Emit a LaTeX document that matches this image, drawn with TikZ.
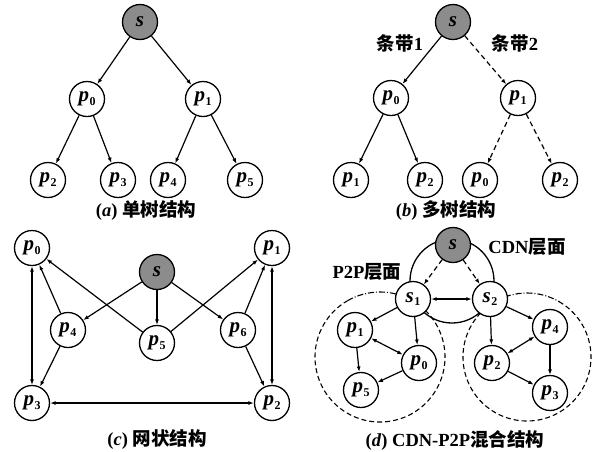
\documentclass[tikz,border=0pt]{standalone}
\usepackage{fontspec}
\setmainfont{Liberation Serif}
\newfontfamily\cjk{Noto Sans CJK SC}
\usetikzlibrary{arrows.meta}
\newcommand{\pn}[1]{\textit{p}\kern0.5pt\raisebox{-0.35ex}{\fontsize{12}{13}\selectfont #1}}
\newcommand{\sn}[1]{\textit{s}\kern0.5pt\raisebox{-0.35ex}{\fontsize{12}{13}\selectfont #1}}
\begin{document}
\begin{tikzpicture}[x=1pt,y=-1pt,
  nd/.style={circle,draw,line width=1.3pt,fill=white,minimum size=35pt,inner sep=0pt,font=\fontsize{21}{22}\selectfont\bfseries},
  src/.style={nd,fill=gray!90},
  ar/.style={line width=1.2pt,-{Latex[length=5.5pt,width=4pt]}},
  dar/.style={line width=1.2pt,<->,>={Latex[length=5.5pt,width=4pt]}},
  dsh/.style={ar,dash pattern=on 5pt off 3.5pt},
  captxt/.style={font=\fontsize{18.5}{20}\selectfont\bfseries},
  lab/.style={font=\fontsize{18.5}{20}\selectfont\bfseries}]
\useasboundingbox (0,0) rectangle (598,451);
% (a)
\node[src] (as) at (140,22) {\textit{s}};
\node[nd] (ap0) at (87,99) {\pn{0}};
\node[nd] (ap1) at (203,99) {\pn{1}};
\node[nd] (ap2) at (48,180) {\pn{2}};
\node[nd] (ap3) at (118,180) {\pn{3}};
\node[nd] (ap4) at (168,180) {\pn{4}};
\node[nd] (ap5) at (245,180) {\pn{5}};
\draw[ar] (as) -- (ap0);
\draw[ar] (as) -- (ap1);
\draw[ar] (ap0) -- (ap2);
\draw[ar] (ap0) -- (ap3);
\draw[ar] (ap1) -- (ap4);
\draw[ar] (ap1) -- (ap5);
\node[captxt] (acap) at (146,211) {(\textit{a}) {\cjk 单树结构}};
% (b)
\node[src] (bs) at (453,22) {\textit{s}};
\node[nd] (bp0) at (391,98) {\pn{0}};
\node[nd] (bp1) at (518,98) {\pn{1}};
\node[nd] (bq1) at (351,180) {\pn{1}};
\node[nd] (bq2) at (425,180) {\pn{2}};
\node[nd] (bq0) at (480,180) {\pn{0}};
\node[nd] (bq3) at (560,180) {\pn{2}};
\draw[ar] (bs) -- (bp0);
\draw[dsh] (bs) -- (bp1);
\draw[ar] (bp0) -- (bq1);
\draw[ar] (bp0) -- (bq2);
\draw[dsh] (bp1) -- (bq0);
\draw[dsh] (bp1) -- (bq3);
\node[lab] (bl1) at (400,43) {{\cjk 条带}1};
\node[lab] (bl2) at (515,43) {{\cjk 条带}2};
\node[captxt] (bcap) at (446,211) {(\textit{b}) {\cjk 多树结构}};
% (c)
\node[src] (cs) at (157,272) {\textit{s}};
\node[nd] (cp0) at (32,248) {\pn{0}};
\node[nd] (cp1) at (272,248) {\pn{1}};
\node[nd] (cp4) at (68,330) {\pn{4}};
\node[nd] (cp5) at (157,343) {\pn{5}};
\node[nd] (cp6) at (238,330) {\pn{6}};
\node[nd] (cp3) at (32,403) {\pn{3}};
\node[nd] (cp2) at (272,403) {\pn{2}};
\draw[dar] (cp0) -- (cp3);
\draw[dar] (cp1) -- (cp2);
\draw[dar] (cp3) -- (cp2);
\draw[ar] (cs) -- (cp4);
\draw[ar] (cs) -- (cp5);
\draw[ar] (cs) -- (cp6);
\draw[ar] (cp4) -- (cp0);
\draw[ar] (cp4) -- (cp3);
\draw[ar] (cp5) -- (cp0);
\draw[ar] (cp5) -- (cp1);
\draw[ar] (cp6) -- (cp1);
\draw[ar] (cp6) -- (cp2);
\node[captxt] (ccap) at (157,440) {(\textit{c}) {\cjk 网状结构}};
% (d)
\coordinate (dlc) at (380,357);
\coordinate (drc) at (527,357);
\draw[line width=1.1pt,dash pattern=on 5pt off 3pt] (dlc) ++(-60:65) arc[start angle=-60,end angle=240,radius=65];
\draw[line width=1.1pt,dash pattern=on 6pt off 2pt on 1pt off 2pt] (dlc) ++(-120:65) arc[start angle=240,end angle=300,radius=65];
\draw[line width=1.1pt,dash pattern=on 5pt off 3pt] (drc) ++(-60:64) arc[start angle=-60,end angle=240,radius=64];
\draw[line width=1.1pt,dash pattern=on 6pt off 2pt on 1pt off 2pt] (drc) ++(-120:64) arc[start angle=240,end angle=300,radius=64];
\coordinate (dcc) at (452,281);
\draw[line width=1.3pt] (dcc) circle[radius=42];
\node[src] (ds) at (453,245) {\textit{s}};
\node[nd] (ds1) at (413,299) {\sn{1}};
\node[nd] (ds2) at (490,299) {\sn{2}};
\node[nd] (dp1) at (355,330) {\pn{1}};
\node[nd] (dp0) at (419,363) {\pn{0}};
\node[nd] (dp5) at (361,390) {\pn{5}};
\node[nd] (dp4) at (550,327) {\pn{4}};
\node[nd] (dp2) at (492,363) {\pn{2}};
\node[nd] (dp3) at (550,393) {\pn{3}};
\draw[dsh] (ds) -- (ds1);
\draw[dsh] (ds) -- (ds2);
\draw[dar] (ds1) -- (ds2);
\draw[ar] (ds1) -- (dp1);
\draw[ar] (ds1) -- (dp0);
\draw[dar] (dp1) -- (dp0);
\draw[ar] (dp1) -- (dp5);
\draw[ar] (dp0) -- (dp5);
\draw[ar] (ds2) -- (dp2);
\draw[ar] (ds2) -- (dp4);
\draw[dar] (dp4) -- (dp2);
\draw[ar] (dp4) -- (dp3);
\draw[ar] (dp2) -- (dp3);
\node[lab] (dl1) at (527,247) {CDN{\cjk 层面}};
\node[lab] (dl2) at (367,272) {P2P{\cjk 层面}};
\node[captxt] (dcap) at (455,440) {(\textit{d}) CDN-P2P{\cjk 混合结构}};
\end{tikzpicture}
\end{document}
